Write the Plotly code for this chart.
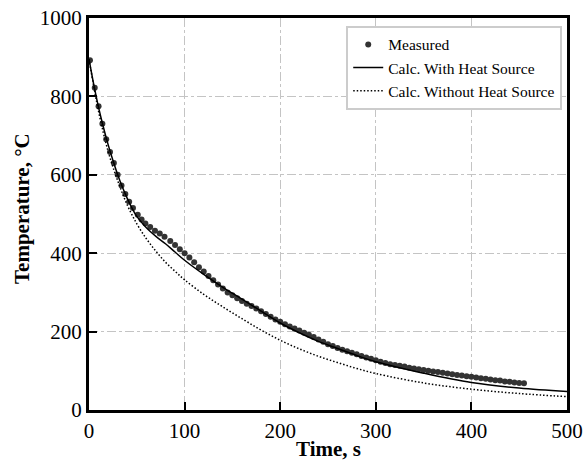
import plotly.graph_objects as go

# Measured data (time s, temperature °C)
meas_t = [1, 6, 10, 14, 18, 22, 26, 30, 34, 38, 42, 46, 51, 55, 59, 64, 69, 74, 79, 85,
          90, 95, 100, 105, 110, 115, 120, 125, 130, 135, 140, 145, 150, 155, 160, 165,
          170, 175, 180, 185, 190, 195, 200, 205, 210, 215, 220, 225, 230, 235, 240,
          245, 250, 255, 260, 265, 270, 275, 280, 285, 290, 295, 300, 305, 310, 315,
          320, 325, 330, 335, 340, 345, 350, 355, 360, 365, 370, 375, 380, 385, 390,
          395, 400, 405, 410, 415, 420, 425, 430, 435, 440, 445, 450, 455]
meas_T = [892, 822, 775, 730, 691, 658, 630, 600, 573, 551, 531, 515, 498, 486, 476, 467,
          457, 450, 442, 431, 421, 410, 400, 389, 377, 364, 353, 342, 331, 320, 310, 300,
          293, 285, 278, 271, 265, 259, 252, 245, 238, 231, 225, 219, 213, 208, 203, 197,
          192, 186, 180, 174, 168, 163, 158, 154, 150, 146, 142, 138, 134, 131, 127, 123,
          120, 117, 115, 113, 111, 108, 106, 104, 102, 100, 98, 97, 95, 93, 91, 89, 88,
          86, 85, 83, 81, 80, 78, 76, 75, 73, 72, 70, 69, 68]

# Calculated with heat source
with_t = [0, 5, 10, 15, 20, 25, 30, 35, 40, 45, 50, 60, 70, 80, 90, 100, 120, 140, 160,
          180, 200, 220, 240, 260, 280, 300, 350, 400, 450, 500]
with_T = [895, 830, 772, 722, 677, 637, 600, 568, 540, 515, 494, 465, 443, 424, 403, 382,
          346, 313, 283, 252, 222, 197, 175, 157, 139, 123, 94, 70, 56, 47]

# Calculated without heat source
wo_t = [0, 10, 20, 30, 40, 50, 60, 70, 80, 90, 100, 120, 140, 160, 180, 200, 220, 240,
        260, 280, 300, 350, 400, 450, 500]
wo_T = [895, 762, 660, 585, 523, 475, 437, 405, 377, 354, 332, 295, 263, 233, 204, 178,
        156, 137, 121, 106, 93, 69, 53, 42, 34]

x_ticks = [0, 100, 200, 300, 400, 500]
y_ticks = [0, 200, 400, 600, 800, 1000]

font_family = "Liberation Serif"

fig = go.Figure()
fig.add_trace(go.Scatter(x=meas_t, y=meas_T, mode="markers", name="Measured",
                         marker=dict(size=6, color="#333333")))
fig.add_trace(go.Scatter(x=with_t, y=with_T, mode="lines", name="Calc. With Heat Source",
                         line=dict(color="black", width=1.5, shape="spline")))
fig.add_trace(go.Scatter(x=wo_t, y=wo_T, mode="lines", name="Calc. Without Heat Source",
                         line=dict(color="black", width=1.5, dash="1.5px,2px", shape="spline")))

axis_common = dict(
    showline=True, linecolor="black", linewidth=3, mirror=True,
    ticks="inside", ticklen=8, tickwidth=2, tickcolor="black",
    showgrid=True, gridcolor="#c4c4c4", gridwidth=1, griddash="dashdot",
    zeroline=False, automargin=False,
    tickfont=dict(family=font_family, size=21, color="black"),
)

fig.update_layout(
    width=587, height=464,
    margin=dict(l=89, r=20, t=18, b=54),
    paper_bgcolor="white", plot_bgcolor="white",
    font=dict(family=font_family, color="black"),
    xaxis=dict(range=[0, 500], tickvals=x_ticks, **axis_common),
    yaxis=dict(range=[0, 1000], tickvals=y_ticks, **axis_common),
    legend=dict(x=0.99, y=0.98, xanchor="right", yanchor="top",
                bgcolor="white", bordercolor="#cccccc", borderwidth=2,
                font=dict(family=font_family, size=15.5, color="black"),
                tracegroupgap=0, itemwidth=30),
    showlegend=True,
    annotations=[
        dict(text="<b>Time, s</b>", xref="paper", yref="paper", x=0.5, y=-0.1,
             xanchor="center", yanchor="middle", showarrow=False,
             font=dict(family=font_family, size=21, color="black")),
        dict(text="<b>Temperature, °C</b>", xref="paper", yref="paper", x=-0.14, y=0.513,
             xanchor="center", yanchor="middle", showarrow=False, textangle=-90,
             font=dict(family=font_family, size=21, color="black")),
    ],
)

fig.write_html("out.html",
               config={"displayModeBar": False, "staticPlot": True},
               post_script="document.body.style.margin='0';document.body.style.overflow='hidden';")
